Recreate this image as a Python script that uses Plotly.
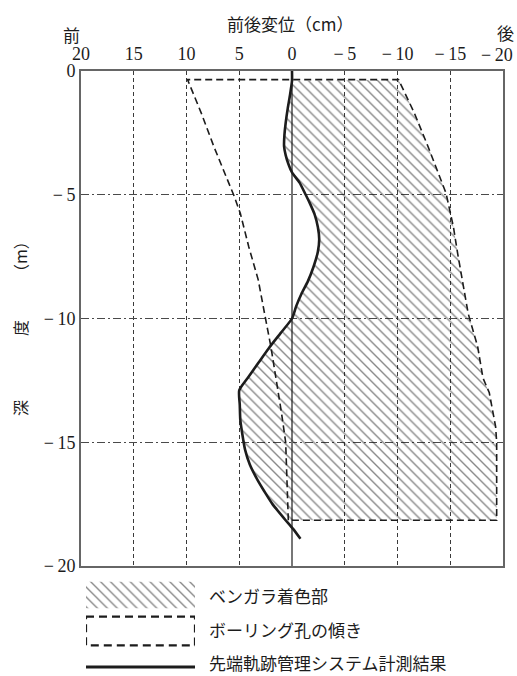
import plotly.graph_objects as go

# ---------------- data ----------------
# x: front/back displacement (cm, + = front), depth (m)
x_ticks = [20, 15, 10, 5, 0, -5, -10, -15, -20]
x_ticktext = ["20", "15", "10", "5", "0", "−\u20095", "−\u200910", "−\u200915", ""]
x_last_label = "−\u200920"   # drawn right-aligned at the frame corner
y_ticks = [0, -5, -10, -15, -20]
y_ticktext = ["0", "−\u20095", "−\u200910", "−\u200915", "−\u200920"]

# measured trajectory (solid line)
meas_depth = [0.0, -0.4, -1.0, -1.5, -2.1, -2.6, -3.05, -3.4, -3.75, -4.1, -4.5, -5.0, -5.4,
              -5.8, -6.3, -6.8, -7.3, -7.9, -8.5, -9.0, -9.5, -10.0, -10.6, -11.2, -11.8,
              -12.4, -12.9, -13.5, -14.1, -14.7, -15.3, -15.9, -16.5, -17.0, -17.5, -18.1,
              -18.5, -18.9]
meas_disp = [0.0, 0.0, 0.2, 0.4, 0.6, 0.72, 0.75, 0.6, 0.35, 0.0, -0.7, -1.3, -1.75,
             -2.15, -2.45, -2.58, -2.45, -2.05, -1.5, -0.9, -0.4, 0.0, 1.1, 2.2, 3.2,
             4.2, 5.0, 4.95, 4.9, 4.7, 4.45, 4.0, 3.3, 2.6, 1.85, 0.7,
             -0.1, -0.8]

# boring hole inclination outline (dashed)
bore_top_depth = -0.35
bore_bottom_depth = -18.15
bore_left_depth = [-0.35, -1.7, -3.06, -4.4, -5.04, -5.75, -7.1, -8.44, -9.8, -11.14,
                   -12.5, -13.8, -15.0, -17.3, -18.15]
bore_left_disp = [9.9, 8.6, 7.4, 6.1, 5.5, 4.9, 4.1, 3.2, 2.6, 2.0,
                  1.5, 1.0, 0.6, 0.4, 0.35]
bore_right_depth = [-0.35, -1.7, -3.06, -4.13, -4.94, -6.3, -7.37, -9.8, -11.14, -12.4,
                    -13.0, -14.37, -15.0, -18.15]
bore_right_disp = [-10.1, -11.6, -12.9, -13.9, -14.6, -15.3, -15.7, -16.7, -17.6, -18.1,
                   -18.7, -19.3, -19.4, -19.4]

legend_labels = ["ベンガラ着色部", "ボーリング孔の傾き", "先端軌跡管理システム計測結果"]

# ---------------- figure ----------------
W, H = 517, 676
JP = "Noto Sans CJK JP"
SERIF = "Liberation Serif, DejaVu Serif, serif"
INK = "#1c1c1c"
HATCH = dict(shape="\\", size=7, solidity=0.2, fgcolor="#111111",
             bgcolor="rgba(0,0,0,0)", fillmode="overlay")

fig = go.Figure()

# hatched (bengara coloured) area: right dashed boundary + bottom + measured curve
meas_in = [(d, x) for d, x in zip(meas_depth, meas_disp) if bore_bottom_depth <= d <= bore_top_depth]
hatch_x = list(bore_right_disp) + [meas_in[-1][1]] + [x for d, x in reversed(meas_in)] + [bore_right_disp[0]]
hatch_y = list(bore_right_depth) + [bore_bottom_depth] + [d for d, x in reversed(meas_in)] + [bore_right_depth[0]]
fig.add_trace(go.Scatter(
    x=hatch_x, y=hatch_y, mode="lines", fill="toself",
    fillcolor="rgba(0,0,0,0)", line=dict(width=0, color="rgba(0,0,0,0)"),
    fillpattern=HATCH, hoverinfo="skip", showlegend=False, xaxis="x", yaxis="y"))

# dashed boring outline
bore_x = list(reversed(bore_left_disp)) + list(bore_right_disp) + [bore_left_disp[-1]]
bore_y = list(reversed(bore_left_depth)) + list(bore_right_depth) + [bore_bottom_depth]
fig.add_trace(go.Scatter(
    x=bore_x, y=bore_y, mode="lines",
    line=dict(color=INK, width=1.6, dash="7px,4px"),
    hoverinfo="skip", showlegend=False, xaxis="x", yaxis="y"))

# measured trajectory
fig.add_trace(go.Scatter(
    x=meas_disp, y=meas_depth, mode="lines",
    line=dict(color=INK, width=2.6, shape="spline", smoothing=0.6),
    hoverinfo="skip", showlegend=False, xaxis="x", yaxis="y"))

# ---- legend swatches on an auxiliary axis ----
fig.add_trace(go.Scatter(
    x=[0, 1, 1, 0, 0], y=[0.13, 0.13, 0.87, 0.87, 0.13], mode="lines", fill="toself",
    fillcolor="rgba(0,0,0,0)", line=dict(width=0, color="rgba(0,0,0,0)"),
    fillpattern=HATCH, hoverinfo="skip", showlegend=False, xaxis="x2", yaxis="y2"))
fig.add_trace(go.Scatter(
    x=[0, 1, 1, 0, 0], y=[1.1, 1.1, 1.9, 1.9, 1.1], mode="lines",
    line=dict(color=INK, width=2.2, dash="8px,5px"),
    hoverinfo="skip", showlegend=False, xaxis="x2", yaxis="y2"))
fig.add_trace(go.Scatter(
    x=[0, 1], y=[2.5, 2.5], mode="lines",
    line=dict(color=INK, width=3),
    hoverinfo="skip", showlegend=False, xaxis="x2", yaxis="y2"))

annotations = []
legend_text_rows = [0.5, 1.45, 2.37]
for row, lab in zip(legend_text_rows, legend_labels):
    annotations.append(dict(text=lab, xref="paper", yref="y2", x=207 / W, y=row,
                            xanchor="left", yanchor="middle", showarrow=False,
                            font=dict(family=JP, size=17, color=INK)))

annotations += [
    dict(text="前後変位（cm）", xref="paper", yref="paper", x=290 / W, y=1 - 24 / H,
         xanchor="center", yanchor="middle", showarrow=False,
         font=dict(family=JP, size=17, color=INK)),
    dict(text="前", xref="paper", yref="paper", x=71 / W, y=1 - 35 / H,
         xanchor="center", yanchor="middle", showarrow=False,
         font=dict(family=JP, size=17, color=INK)),
    dict(text="後", xref="paper", yref="paper", x=505 / W, y=1 - 33 / H,
         xanchor="center", yanchor="middle", showarrow=False,
         font=dict(family=JP, size=17, color=INK)),
    dict(text="深　　　　度　　　（m）", xref="paper", yref="paper", x=20 / W, y=1 - 325 / H,
         xanchor="center", yanchor="middle", showarrow=False, textangle=-90,
         font=dict(family=JP, size=16, color=INK)),
    dict(text=x_last_label, xref="paper", yref="paper", x=515 / W, y=1 - 55 / H,
         xanchor="right", yanchor="middle", showarrow=False,
         font=dict(family=SERIF, size=18, color=INK)),
]

fig.update_layout(
    width=W, height=H, margin=dict(l=0, r=0, t=0, b=0),
    paper_bgcolor="white", plot_bgcolor="white", showlegend=False,
    annotations=annotations,
    xaxis=dict(domain=[81 / W, 503 / W], range=[20, -20], side="top", anchor="y",
               tickmode="array", tickvals=x_ticks, ticktext=x_ticktext, ticks="",
               tickfont=dict(family=SERIF, size=18, color=INK),
               ticklabeloverflow="allow", ticklabelstandoff=2,
               showgrid=True, gridcolor="#3a3a3a", gridwidth=1, griddash="4px,3px",
               zeroline=True, zerolinecolor="#777", zerolinewidth=1.5,
               showline=True, mirror=True, linecolor="#666", linewidth=1.6,
               automargin=False, fixedrange=True),
    yaxis=dict(domain=[1 - 566 / H, 1 - 71 / H], range=[-20, 0], anchor="x",
               tickmode="array", tickvals=y_ticks, ticktext=y_ticktext, ticks="",
               tickfont=dict(family=SERIF, size=18, color=INK),
               ticklabeloverflow="allow",
               showgrid=True, gridcolor="#4a4a4a", gridwidth=1, griddash="8px,3px,2px,3px",
               zeroline=False,
               showline=True, mirror=True, linecolor="#666", linewidth=1.6,
               automargin=False, fixedrange=True),
    xaxis2=dict(domain=[86 / W, 195 / W], range=[0, 1], anchor="y2", visible=False,
                fixedrange=True),
    yaxis2=dict(domain=[0, 1 - 577 / H], range=[2.75, 0], anchor="x2", visible=False,
                fixedrange=True),
)

fig.write_html("out.html")
